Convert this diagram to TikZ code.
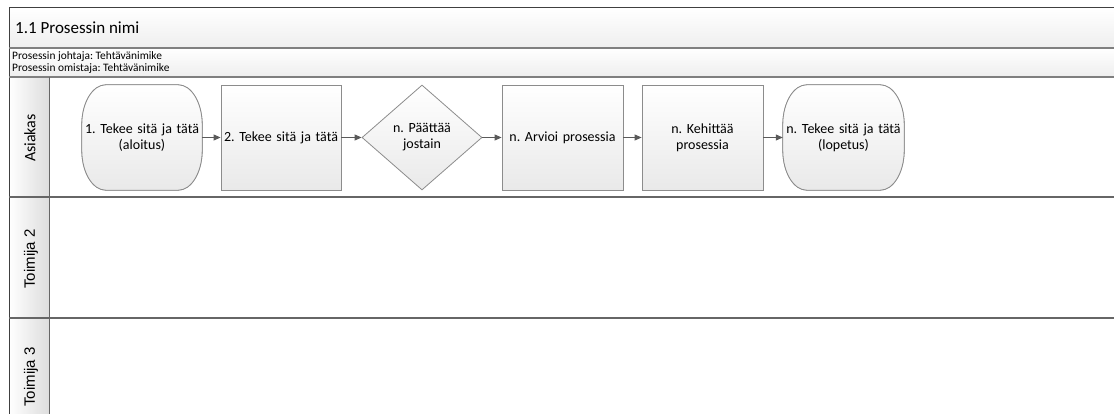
\documentclass[tikz,border=0pt]{standalone}
\usepackage{fontspec}
\setmainfont{Carlito}
\newfontfamily\lanefont{Liberation Sans}
\usetikzlibrary{shapes.geometric,arrows.meta}
\definecolor{frameline}{HTML}{404040}
\definecolor{sepline}{HTML}{7F7F7F}
\definecolor{shapeline}{HTML}{8C8C8C}
\definecolor{flowline}{HTML}{5A5A5A}
\definecolor{bandbot}{HTML}{EEEEEE}
\definecolor{shapebot}{HTML}{E9E9E9}
\frenchspacing
% start/end terminal outline: a box with tall elliptical corners
\newcommand{\terminalpath}[1]{%
  ([xshift=24pt]#1.north west) -- ([xshift=-24pt]#1.north east)
  arc[start angle=90, end angle=0, x radius=24pt, y radius=40pt]
  -- ([yshift=40pt]#1.south east)
  arc[start angle=0, end angle=-90, x radius=24pt, y radius=40pt]
  -- ([xshift=24pt]#1.south west)
  arc[start angle=270, end angle=180, x radius=24pt, y radius=40pt]
  -- ([yshift=-40pt]#1.north west)
  arc[start angle=180, end angle=90, x radius=24pt, y radius=40pt] -- cycle}
\begin{document}
\begin{tikzpicture}[x=1pt,y=-1pt,
  stepshape/.style={draw=shapeline, line width=0.8pt, top color=white, bottom color=shapebot,
    minimum width=120pt, minimum height=105pt, align=center, inner sep=1pt,
    font=\fontsize{14}{16}\selectfont},
  taskbox/.style={stepshape, rectangle, text width=118pt},
  terminal/.style={rectangle, minimum width=120pt, minimum height=105pt, align=center,
    inner sep=1pt, text width=118pt, font=\fontsize{14}{16}\selectfont},
  termoutline/.style={draw=shapeline, line width=0.8pt, top color=white, bottom color=shapebot},
  decision/.style={stepshape, diamond, aspect=1.15, text width=66pt, inner sep=0pt},
  flow/.style={draw=flowline, line width=1pt, -{Triangle[length=7pt,width=6pt]}},
  lanelabel/.style={rotate=90, font=\lanefont\fontsize{15}{17}\selectfont},
]
\useasboundingbox (0,0) rectangle (1114,414);
\clip (0,0) rectangle (1114,414);

% header bands
\shade[top color=white, bottom color=bandbot] (9,8) rectangle (1120,48);
\shade[top color=white, bottom color=bandbot] (9,48) rectangle (1120,77);
% lane header column
\shade[left color=white, right color=bandbot!85!gray] (9,77) rectangle (49,420);

% frame and separators
\draw[frameline, line width=1pt] (1120,8) -- (9,8) -- (9,420);
\draw[sepline, line width=1.4pt] (9,48) -- (1120,48);
\draw[sepline, line width=1.4pt] (9,77) -- (1120,77);
\draw[frameline!80, line width=1.2pt] (9,197) -- (1120,197);
\draw[frameline!80, line width=1.2pt] (9,318) -- (1120,318);
\draw[frameline!80, line width=1pt] (49,77) -- (49,420);

% titles
\node[anchor=west, inner sep=0pt, font=\fontsize{17}{20}\selectfont] (title) at (15,28) {1.1 Prosessin nimi};
\node[anchor=north west, align=left, inner sep=0pt, font=\fontsize{11.4}{12}\selectfont] (owners) at (12,51.5)
  {Prosessin johtaja: Tehtävänimike\\Prosessin omistaja: Tehtävänimike};

% lane labels
\node[rotate=90, font=\fontsize{16}{18}\selectfont] (lane1) at (30,138) {Asiakas};
\node[lanelabel] (lane2) at (31,259) {Toimija 2};
\node[lanelabel] (lane3) at (31,377) {Toimija 3};

% process steps
\node[terminal, minimum width=118pt] (start) at (142,137.5) {};
\node[taskbox] (do2) at (281,137.5) {2. Tekee sitä ja tätä};
\node[decision] (decide) at (422,137.5) {n. Päättää\\jostain};
\node[taskbox, minimum width=121pt] (assess) at (562.5,137.5) {n. Arvioi prosessia};
\node[taskbox, minimum width=121pt] (develop) at (702.5,137.5) {n. Kehittää\\prosessia};
\node[terminal, minimum width=121pt] (finish) at (843.5,137.5) {};

% terminal outlines, then their texts on top
\shade[termoutline] \terminalpath{start};
\draw[termoutline] \terminalpath{start};
\shade[termoutline] \terminalpath{finish};
\draw[termoutline] \terminalpath{finish};
\node[terminal] (starttext) at (start.center) {1. Tekee sitä ja tätä\\(aloitus)};
\node[terminal] (finishtext) at (finish.center) {n. Tekee sitä ja tätä\\(lopetus)};

% flow
\draw[flow] (start.east) -- (do2.west);
\draw[flow] (do2.east) -- (decide.west);
\draw[flow] (decide.east) -- (assess.west);
\draw[flow] (assess.east) -- (develop.west);
\draw[flow] (develop.east) -- (finish.west);
\end{tikzpicture}
\end{document}
